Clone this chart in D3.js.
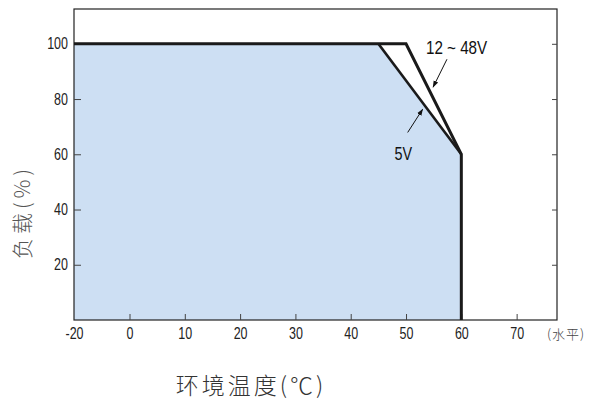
<!DOCTYPE html>
<html><head><meta charset="utf-8">
<script src="https://cdn.jsdelivr.net/npm/d3@7"></script>
<style>body{margin:0;background:#fff}svg{display:block}</style>
</head><body><svg id="c" width="589" height="401"></svg>
<script>
// Data
const xTicks = [-20, 0, 10, 20, 30, 40, 50, 60, 70];
const yTicks = [20, 40, 60, 80, 100];
const temp1248 = [-20, 50, 60, 60];
const load1248 = [100, 100, 60, 0];
const temp5 = [45, 60];
const load5 = [100, 60];
const fillTemp = [-20, -20, 45, 60, 60];
const fillLoad = [0, 100, 100, 60, 0];

const svg = d3.select("#c");
const L = 74, R = 557, T = 9, B = 320;
// broken axis: left edge labelled -20 occupies one 10-degree step
const x = d3.scaleLinear().domain([-20, 0, 77.3]).range([L, 129.5, R]);
const y = d3.scaleLinear().domain([0, 112.6]).range([B, T]);

const line = d3.line().x(d => x(d[0])).y(d => y(d[1]));

function condense(sel, f) {
  sel.each(function () {
    const w = this.getComputedTextLength();
    d3.select(this).attr("textLength", w * f).attr("lengthAdjust", "spacingAndGlyphs");
  });
}

svg.append("path")
  .attr("d", line(fillTemp.map((t, i) => [t, fillLoad[i]])) + "Z")
  .attr("fill", "#cddff3");

// frame
svg.append("rect").attr("x", L).attr("y", T).attr("width", R - L).attr("height", B - T)
  .attr("fill", "none").attr("stroke", "#222").attr("stroke-width", 1.2);

// axes
const fontF = "'Liberation Sans', Arial, sans-serif";
const xAxis = d3.axisBottom(x).tickValues(xTicks).tickSize(-6).tickPadding(8).tickFormat(d => d);
const gx = svg.append("g").attr("transform", `translate(0,${B})`).call(xAxis);
gx.select(".domain").remove();
gx.selectAll(".tick line").attr("stroke", "#444").filter(d => d === -20).remove();
gx.selectAll("text").attr("font-family", fontF).attr("font-size", 16).attr("fill", "#222").call(condense, 0.78);

const yAxis = d3.axisLeft(y).tickValues(yTicks).tickSize(-7).tickPadding(6);
const gy = svg.append("g").attr("transform", `translate(${L},0)`).call(yAxis);
gy.select(".domain").remove();
gy.selectAll(".tick line").attr("stroke", "#444");
gy.selectAll("text").attr("font-family", fontF).attr("font-size", 16).attr("fill", "#222").call(condense, 0.78);

const yAxisR = d3.axisRight(y).tickValues(yTicks).tickSize(-5).tickFormat("");
const gyr = svg.append("g").attr("transform", `translate(${R},0)`).call(yAxisR);
gyr.select(".domain").remove();
gyr.selectAll(".tick line").attr("stroke", "#444");

// curves
svg.append("path").attr("d", line(temp1248.map((t, i) => [t, load1248[i]])))
  .attr("fill", "none").attr("stroke", "#1a1a1a").attr("stroke-width", 3).attr("stroke-linejoin", "miter");
svg.append("path").attr("d", line(temp5.map((t, i) => [t, load5[i]])))
  .attr("fill", "none").attr("stroke", "#1a1a1a").attr("stroke-width", 2.6);

// annotations
const defs = svg.append("defs");
defs.append("marker").attr("id", "ah").attr("viewBox", "0 0 10 10").attr("refX", 9).attr("refY", 5)
  .attr("markerWidth", 7).attr("markerHeight", 7).attr("orient", "auto")
  .append("path").attr("d", "M0,1.5 L10,5 L0,8.5 Z").attr("fill", "#111");

svg.append("line").attr("x1", x(57.4)).attr("y1", y(94.4)).attr("x2", x(54.9)).attr("y2", y(84.3))
  .attr("stroke", "#111").attr("stroke-width", 1).attr("marker-end", "url(#ah)");
svg.append("text").attr("x", x(53.6)).attr("y", y(96.3)).text("12 ~ 48V")
  .attr("font-family", fontF).attr("font-size", 19).attr("fill", "#111").call(condense, 0.8);

svg.append("line").attr("x1", x(50.3)).attr("y1", y(67.9)).attr("x2", x(53.0)).attr("y2", y(76.3))
  .attr("stroke", "#111").attr("stroke-width", 1).attr("marker-end", "url(#ah)");
svg.append("text").attr("x", x(47.9)).attr("y", y(58)).text("5V")
  .attr("font-family", fontF).attr("font-size", 18).attr("fill", "#111").call(condense, 0.8);

// titles
const cjk = "'Noto Sans CJK SC', sans-serif";
svg.append("text").attr("transform", `translate(30,212) rotate(-90)`).attr("text-anchor", "middle")
  .attr("font-family", cjk).attr("font-weight", 300).attr("font-size", 21).attr("fill", "#555")
  .attr("letter-spacing", 4).text("负载(%)");
svg.append("text").attr("x", 251).attr("y", 394).attr("text-anchor", "middle")
  .attr("font-family", cjk).attr("font-weight", 300).attr("font-size", 23).attr("fill", "#333")
  .attr("letter-spacing", 3).text("环境温度(℃)");
svg.append("text").attr("x", 566).attr("y", 339).attr("text-anchor", "middle")
  .attr("font-family", cjk).attr("font-weight", 300).attr("font-size", 13).attr("fill", "#444")
  .attr("letter-spacing", 1).text("(水平)");
</script></body></html>
